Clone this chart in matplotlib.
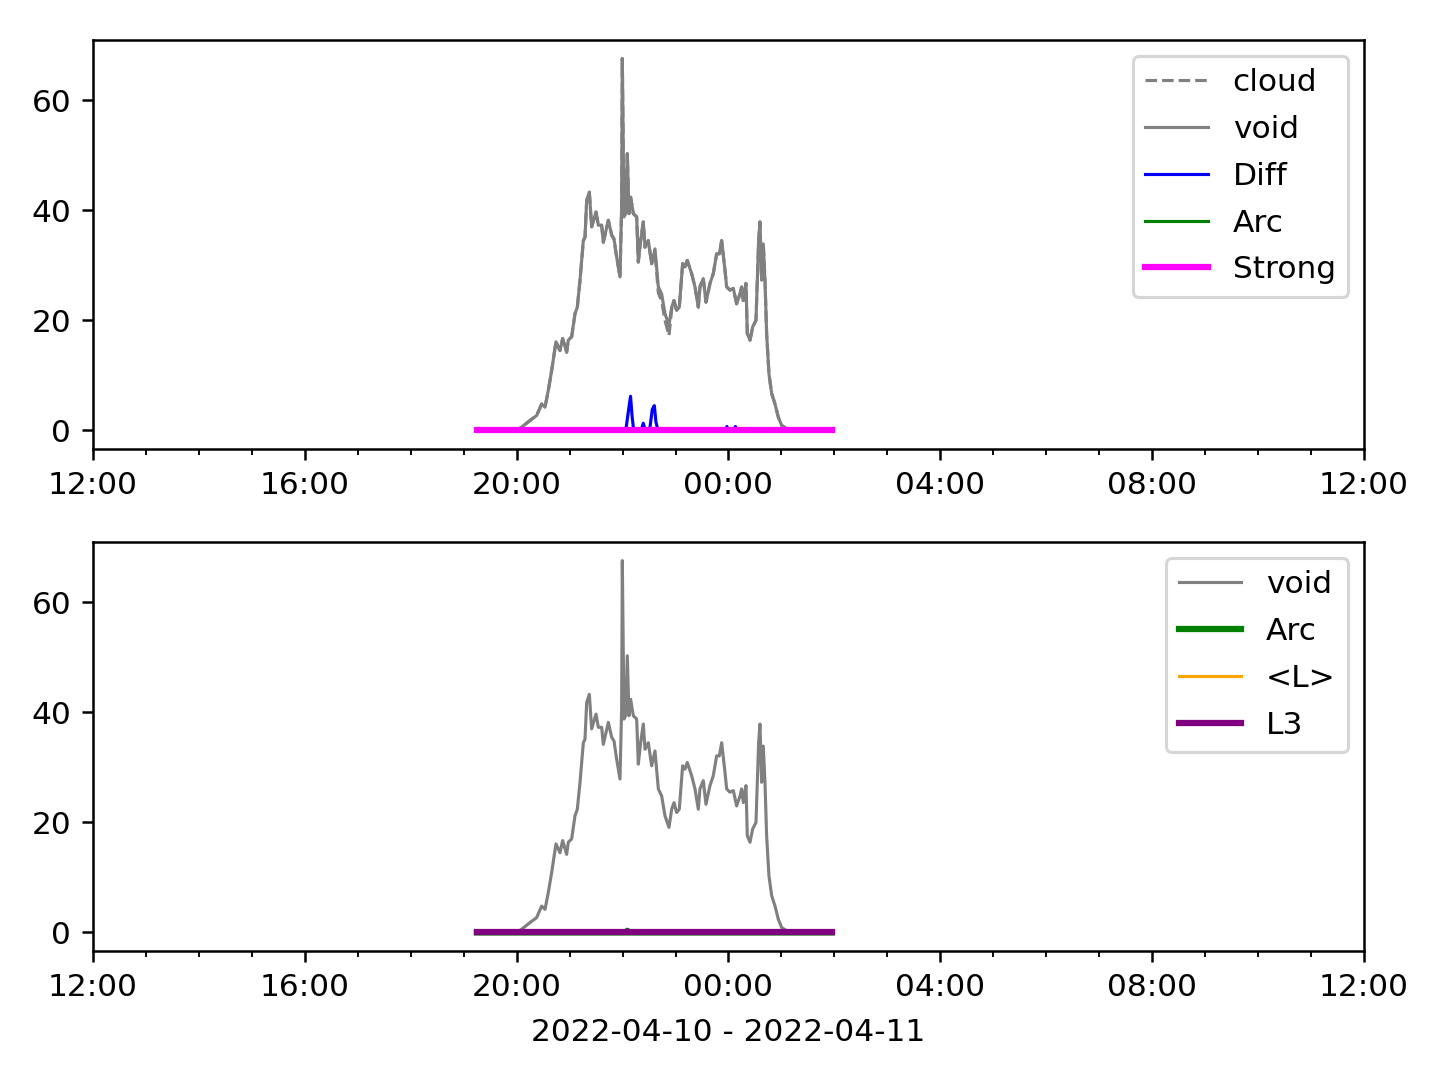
import matplotlib
matplotlib.use("Agg")
import matplotlib.pyplot as plt
import matplotlib.dates as mdates
import pandas as pd

# hours after 2022-04-10 12:00
t_void = [7.25, 8.0, 8.094, 8.252, 8.377, 8.472, 8.535, 8.598, 8.661, 8.742, 8.818, 8.868,
          8.944, 8.975, 9.038, 9.101, 9.145, 9.196, 9.259, 9.290, 9.322, 9.372, 9.416,
          9.498, 9.542, 9.605, 9.636, 9.731, 9.794, 9.838, 9.888, 9.951, 9.982, 9.995,
          10.026, 10.058, 10.089, 10.121, 10.152, 10.203, 10.266, 10.297, 10.341, 10.391,
          10.423, 10.486, 10.549, 10.612, 10.675, 10.738, 10.801, 10.876, 10.927, 10.971,
          11.021, 11.071, 11.134, 11.178, 11.222, 11.304, 11.367, 11.430, 11.461, 11.524,
          11.575, 11.650, 11.713, 11.776, 11.827, 11.871, 11.934, 11.965, 12.028, 12.091,
          12.154, 12.217, 12.248, 12.280, 12.330, 12.355, 12.406, 12.456, 12.519, 12.569,
          12.594, 12.626, 12.657, 12.689, 12.720, 12.764, 12.815, 12.878, 12.941, 13.004,
          13.098, 13.2, 13.95]
void = [0, 0, 0.6, 1.8, 2.7, 4.8, 4.2, 7.3, 10.9, 16.1, 14.5, 16.7,
        14.2, 16.4, 17.0, 21.2, 22.4, 27.3, 34.5, 35.1, 41.8, 43.3, 37.0,
        39.7, 37.3, 37.3, 34.2, 38.2, 35.5, 34.8, 31.5, 27.9, 40.6, 67.6,
        38.8, 39.4, 50.3, 39.4, 42.4, 39.4, 38.8, 30.6, 34.5, 37.9,
        33.3, 34.5, 30.3, 33.0, 26.1, 24.8, 21.2, 19.1, 22.4, 23.6,
        21.8, 22.4, 30.3, 29.7, 30.9, 28.5, 26.1, 22.4, 26.1, 27.6,
        23.3, 26.7, 28.5, 32.1, 32.1, 34.5, 29.1, 26.1, 25.5, 25.8,
        23.0, 24.8, 26.1, 23.6, 26.7, 17.6, 16.4, 18.8, 20.0, 34.5,
        37.9, 27.3, 33.9, 27.3, 17.6, 10.3, 6.7, 4.8, 2.4, 0.9,
        0.3, 0, 0]
cloud = [0, 0, 0.6, 1.8, 2.7, 4.8, 4.2, 7.3, 10.9, 16.1, 14.5, 16.7,
         14.2, 16.4, 17.0, 21.2, 22.4, 27.3, 34.5, 35.1, 41.8, 43.3, 37.0,
         39.7, 37.3, 37.3, 34.2, 38.2, 35.5, 34.8, 31.5, 27.9, 40.6, 67.6,
         38.8, 39.4, 50.3, 39.4, 42.4, 39.4, 38.8, 30.6, 34.5, 37.9,
         33.3, 34.5, 30.3, 32.5, 25.0, 23.5, 20.0, 17.2, 22.0, 23.6,
         21.8, 22.4, 30.3, 29.7, 30.9, 28.5, 26.1, 22.4, 26.1, 27.6,
         23.3, 26.7, 28.5, 32.1, 32.1, 34.5, 29.1, 26.1, 25.5, 25.8,
         23.0, 24.8, 26.1, 23.6, 26.7, 17.6, 16.4, 18.8, 20.0, 34.5,
         37.9, 27.3, 33.9, 27.3, 17.6, 10.3, 6.7, 4.8, 2.4, 0.9,
         0.3, 0, 0]

t_diff = [7.25, 10.06, 10.11, 10.15, 10.18, 10.21, 10.35, 10.39, 10.43, 10.51, 10.56,
          10.60, 10.63, 10.67, 11.95, 11.97, 11.99, 12.11, 12.13, 12.15, 13.95]
diff = [0, 0, 3.5, 6.2, 2.5, 0, 0, 1.3, 0, 0, 3.8, 4.5, 1.5, 0, 0, 0.7, 0, 0, 0.7, 0, 0]

t_flat = [7.25, 10.07, 10.09, 10.11, 13.95]
arc = [0, 0, 0.3, 0, 0]
strong = [0, 0, 0, 0, 0]
mean_l = [0, 0, 0, 0, 0]
l3 = [0, 0, 0, 0, 0]

start = pd.Timestamp("2022-04-10 12:00")
end = pd.Timestamp("2022-04-11 12:00")

def to_dt(hours):
    return [start + pd.Timedelta(hours=h) for h in hours]

x_void = to_dt(t_void)
x_diff = to_dt(t_diff)
x_flat = to_dt(t_flat)

fig = plt.figure(figsize=(6.4, 4.8), dpi=225)
ax1 = fig.add_axes([0.0646, 0.5843, 0.8826, 0.3787])
ax2 = fig.add_axes([0.0646, 0.1194, 0.8826, 0.3787])

ax1.plot(x_void, cloud, color="gray", lw=1, ls="--", label="cloud")
ax1.plot(x_void, void, color="gray", lw=1, label="void")
ax1.plot(x_diff, diff, color="blue", lw=1, label="Diff")
ax1.plot(x_flat, arc, color="green", lw=1, label="Arc")
ax1.plot(x_flat, strong, color="magenta", lw=2, label="Strong")
ax1.legend(loc="upper right", labelspacing=0.57)

ax2.plot(x_void, void, color="gray", lw=1, label="void")
ax2.plot(x_flat, arc, color="green", lw=2, label="Arc")
ax2.plot(x_flat, mean_l, color="orange", lw=1, label="<L>")
ax2.plot(x_flat, l3, color="purple", lw=2, label="L3")
ax2.legend(loc="upper right", labelspacing=0.57)

for ax in (ax1, ax2):
    ax.set_xlim(start, end)
    ax.set_yticks([0, 20, 40, 60])
    ax.xaxis.set_major_locator(mdates.HourLocator(byhour=[0, 4, 8, 12, 16, 20]))
    ax.xaxis.set_minor_locator(mdates.HourLocator())
    ax.xaxis.set_major_formatter(mdates.DateFormatter("%H:%M"))

ax2.set_xlabel("2022-04-10 - 2022-04-11", labelpad=5)

fig.savefig("out.png", dpi=225)
